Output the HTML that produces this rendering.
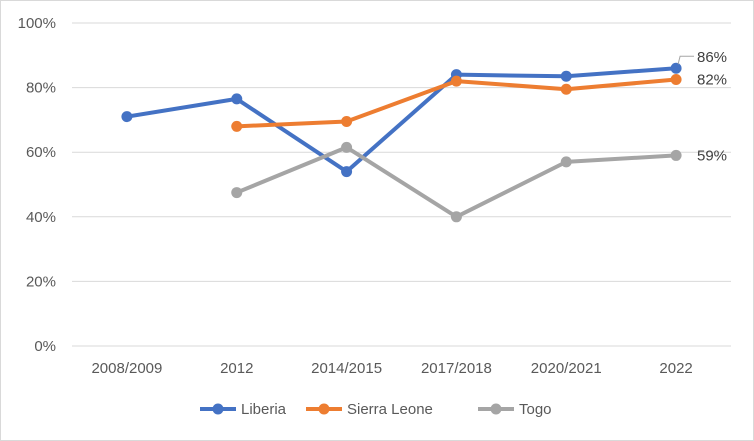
<!DOCTYPE html>
<html><head><meta charset="utf-8"><style>
body{margin:0;background:#fff;}
svg{display:block;font-family:"Liberation Sans",sans-serif;}
</style></head><body>
<svg id="c" width="754" height="441">
<rect x="0.5" y="0.5" width="753" height="440" fill="#fff" stroke="#d9d9d9"/>
</svg>
<script>
const categories=["2008/2009","2012","2014/2015","2017/2018","2020/2021","2022"];
const liberia=[71,76.5,54,84,83.5,86];
const sierraLeone=[null,68,69.5,82,79.5,82.5];
const togo=[null,47.5,61.5,40,57,59];
const yTicks=[0,20,40,60,80,100];
const seriesNames=["Liberia","Sierra Leone","Togo"];
const seriesColors=["#4472c4","#ed7d31","#a5a5a5"];
const endLabels=["86%","82%","59%"];
const svg=document.getElementById('c');
const NS="http://www.w3.org/2000/svg";
const x0=72,x1=731,y0=346,y1=23;
const xs=i=>x0+(i+0.5)*(x1-x0)/categories.length;
const ys=v=>y0-(v/100)*(y0-y1);
function mk(t,a,p){const e=document.createElementNS(NS,t);for(const k in a)e.setAttribute(k,a[k]);(p||svg).appendChild(e);return e;}
yTicks.forEach(t=>{
 const l=mk('line',{x1:x0,x2:x1,y1:ys(t),y2:ys(t),stroke:'#d9d9d9','stroke-width':1});
 
 
 const tx=mk('text',{x:56,y:ys(t)+5,'text-anchor':'end','font-size':15,fill:'#595959'});
 tx.textContent=t+'%';
 
 
});
categories.forEach((c,i)=>{
 const tx=mk('text',{x:xs(i),y:373,'text-anchor':'middle','font-size':15,fill:'#595959'});
 tx.textContent=c;
 
 
});
[liberia,sierraLeone,togo].forEach((s,si)=>{
 const g=mk('g',{});
 
 
 let d='';s.forEach((v,i)=>{if(v==null)return;d+=(d?'L':'M')+xs(i)+','+ys(v);});
 mk('path',{d:d,fill:'none',stroke:seriesColors[si],'stroke-width':4,'stroke-linejoin':'round'},g);
 s.forEach((v,i)=>{if(v==null)return;
  const p=mk('circle',{cx:xs(i),cy:ys(v),r:5.5,fill:seriesColors[si]},g);
  
  
 });
 const li=s.length-1;
 const ly=si===0?ys(s[li])-6:ys(s[li])+5;
 const tx=mk('text',{x:697,y:ly,'font-size':15,fill:'#404040'});
 tx.textContent=endLabels[si];
 
 
 if(si===0){mk('path',{d:`M${xs(li)+2},${ys(s[li])-4}L${xs(li)+4},${ys(s[li])-12}L694,${ys(s[li])-12}`,fill:'none',stroke:'#a6a6a6','stroke-width':1});}
});
const lx=[200,306,478];
seriesNames.forEach((n,i)=>{
 const g=mk('g',{});
 
 
 mk('line',{x1:lx[i],x2:lx[i]+36,y1:409,y2:409,stroke:seriesColors[i],'stroke-width':4},g);
 mk('circle',{cx:lx[i]+18,cy:409,r:5.5,fill:seriesColors[i]},g);
 const t=mk('text',{x:lx[i]+41,y:414,'font-size':15,fill:'#595959'},g);
 t.textContent=n;
});
</script>
</body></html>
